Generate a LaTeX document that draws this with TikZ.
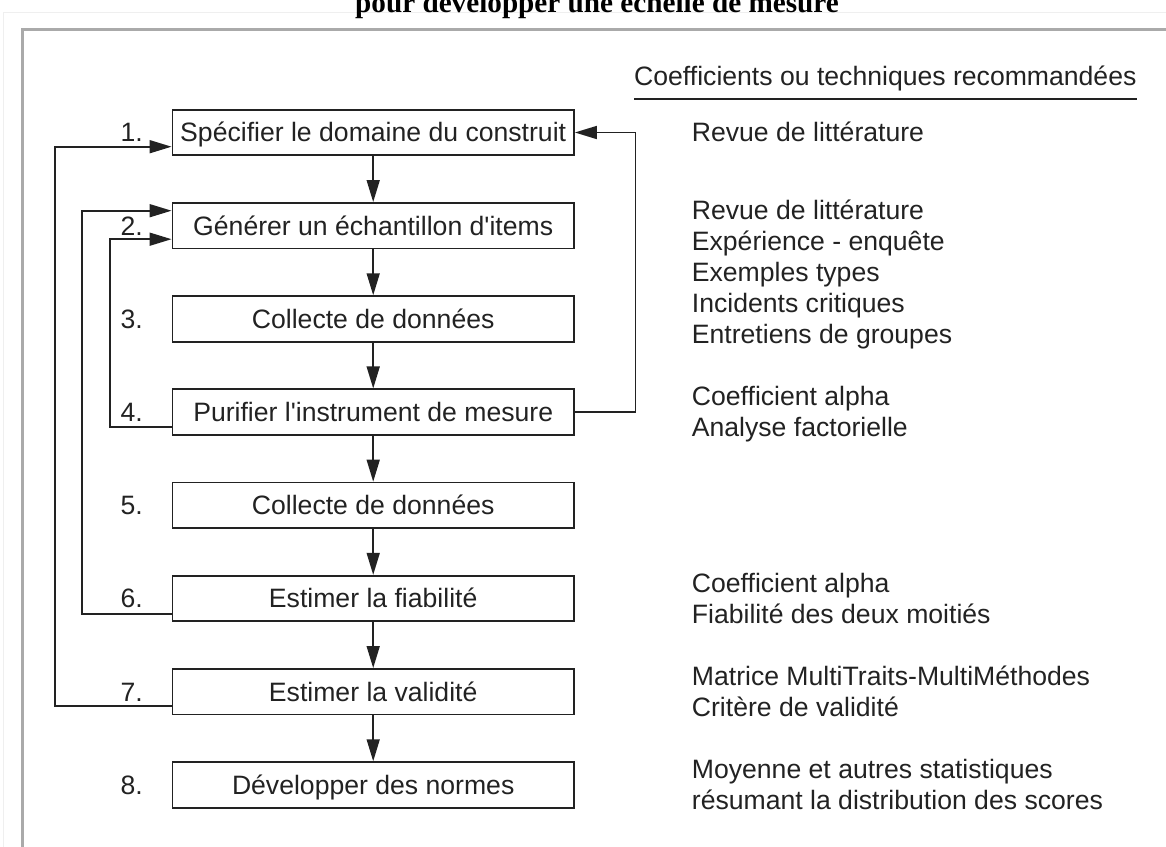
\documentclass[tikz,border=0pt]{standalone}
\usepackage{fontspec}
\setmainfont{Liberation Sans}
\newfontfamily\titlefont{Liberation Serif}
\usetikzlibrary{arrows.meta,calc}
\definecolor{ink}{HTML}{222222}
\definecolor{framegray}{HTML}{AAAAAA}
\definecolor{faint}{HTML}{EFEFEF}
\tikzset{
  stepbox/.style={draw=ink, line width=1.8pt, minimum width=401.5pt, minimum height=45.5pt,
    inner sep=0pt, text height=18.8pt, text depth=0pt, text=ink,
    font=\fontsize{26.6}{31}\selectfont},
  num/.style={anchor=base east, inner sep=0pt, text=ink, font=\fontsize{26.6}{31}\selectfont},
  tech/.style={anchor=base west, inner sep=0pt, text=ink, align=left,
    font=\fontsize{26.6}{31}\selectfont},
  conn/.style={draw=ink, line width=1.6pt},
  arr/.style={conn, -{Triangle[length=22pt, width=13pt]}},
}
\begin{document}
\begin{tikzpicture}[x=1pt, y=-1pt]
\useasboundingbox (0,0) rectangle (1166,846);
% faint page edges
\draw[faint, line width=1pt] (3,860) -- (3,12) -- (1170,12);
% title (cut off at the top)
\node[anchor=base, inner sep=0pt, font=\titlefont\bfseries\fontsize{29.2}{34}\selectfont, text=black]
  (title) at (597,12) {pour développer une échelle de mesure};
% frame
\draw[framegray, line width=3pt] (22,870) -- (22,29) -- (1180,29);

% boxes
\node[stepbox] (b1) at (373.2,132.5) {Spécifier le domaine du construit};
\node[stepbox] (b2) at (373.2,225.7) {Générer un échantillon d\textquotesingle items};
\node[stepbox] (b3) at (373.2,318.9) {Collecte de données};
\node[stepbox] (b4) at (373.2,412.1) {Purifier l\textquotesingle instrument de mesure};
\node[stepbox] (b5) at (373.2,505.3) {Collecte de données};
\node[stepbox] (b6) at (373.2,598.5) {Estimer la fiabilité};
\node[stepbox] (b7) at (373.2,691.7) {Estimer la validité};
\node[stepbox] (b8) at (373.2,784.9) {Développer des normes};

% numbers
\node[num] (n1) at (143,141.9) {1.};
\node[num] (n2) at (143,235.1) {2.};
\node[num] (n3) at (143,328.3) {3.};
\node[num] (n4) at (143,421.5) {4.};
\node[num] (n5) at (143,514.7) {5.};
\node[num] (n6) at (143,607.9) {6.};
\node[num] (n7) at (143,701.1) {7.};
\node[num] (n8) at (143,794.3) {8.};

% downward arrows
\draw[arr] (b1) -- (b2);
\draw[arr] (b2) -- (b3);
\draw[arr] (b3) -- (b4);
\draw[arr] (b4) -- (b5);
\draw[arr] (b5) -- (b6);
\draw[arr] (b6) -- (b7);
\draw[arr] (b7) -- (b8);

% feedback loops
\draw[arr] ([yshift=-14pt]b7.west) -- ++(-116.5,0) |- ([yshift=-14.2pt]b1.west);
\draw[arr] ([yshift=-15.5pt]b6.west) -- ++(-89.5,0) |- ([yshift=15pt]b2.west);
\draw[arr] ([yshift=-15pt]b4.west) -- ++(-61.5,0) |- ([yshift=-13.5pt]b2.west);
\draw[arr] (b4.east) -- ++(60.5,0) |- (b1.east);

% right column (base anchor = baseline of the last line)
\node[tech] (hdr) at (634,85) {Coefficients ou techniques recommandées};
\draw[conn, line width=1.4pt] (hdr.south west |- 0,99) -- (hdr.south east |- 0,99);
\node[tech] (t1) at (691.7,141.9) {Revue de littérature};
\node[tech] (t2) at (691.7,343.5) {Revue de littérature\\Expérience - enquête\\Exemples types\\Incidents critiques\\Entretiens de groupes};
\node[tech] (t4) at (691.7,436.9) {Coefficient alpha\\Analyse factorielle};
\node[tech] (t6) at (691.7,623.3) {Coefficient alpha\\Fiabilité des deux moitiés};
\node[tech] (t7) at (691.7,716.5) {Matrice MultiTraits-MultiMéthodes\\Critère de validité};
\node[tech] (t8) at (691.7,809.7) {Moyenne et autres statistiques\\résumant la distribution des scores};
\end{tikzpicture}
\end{document}
